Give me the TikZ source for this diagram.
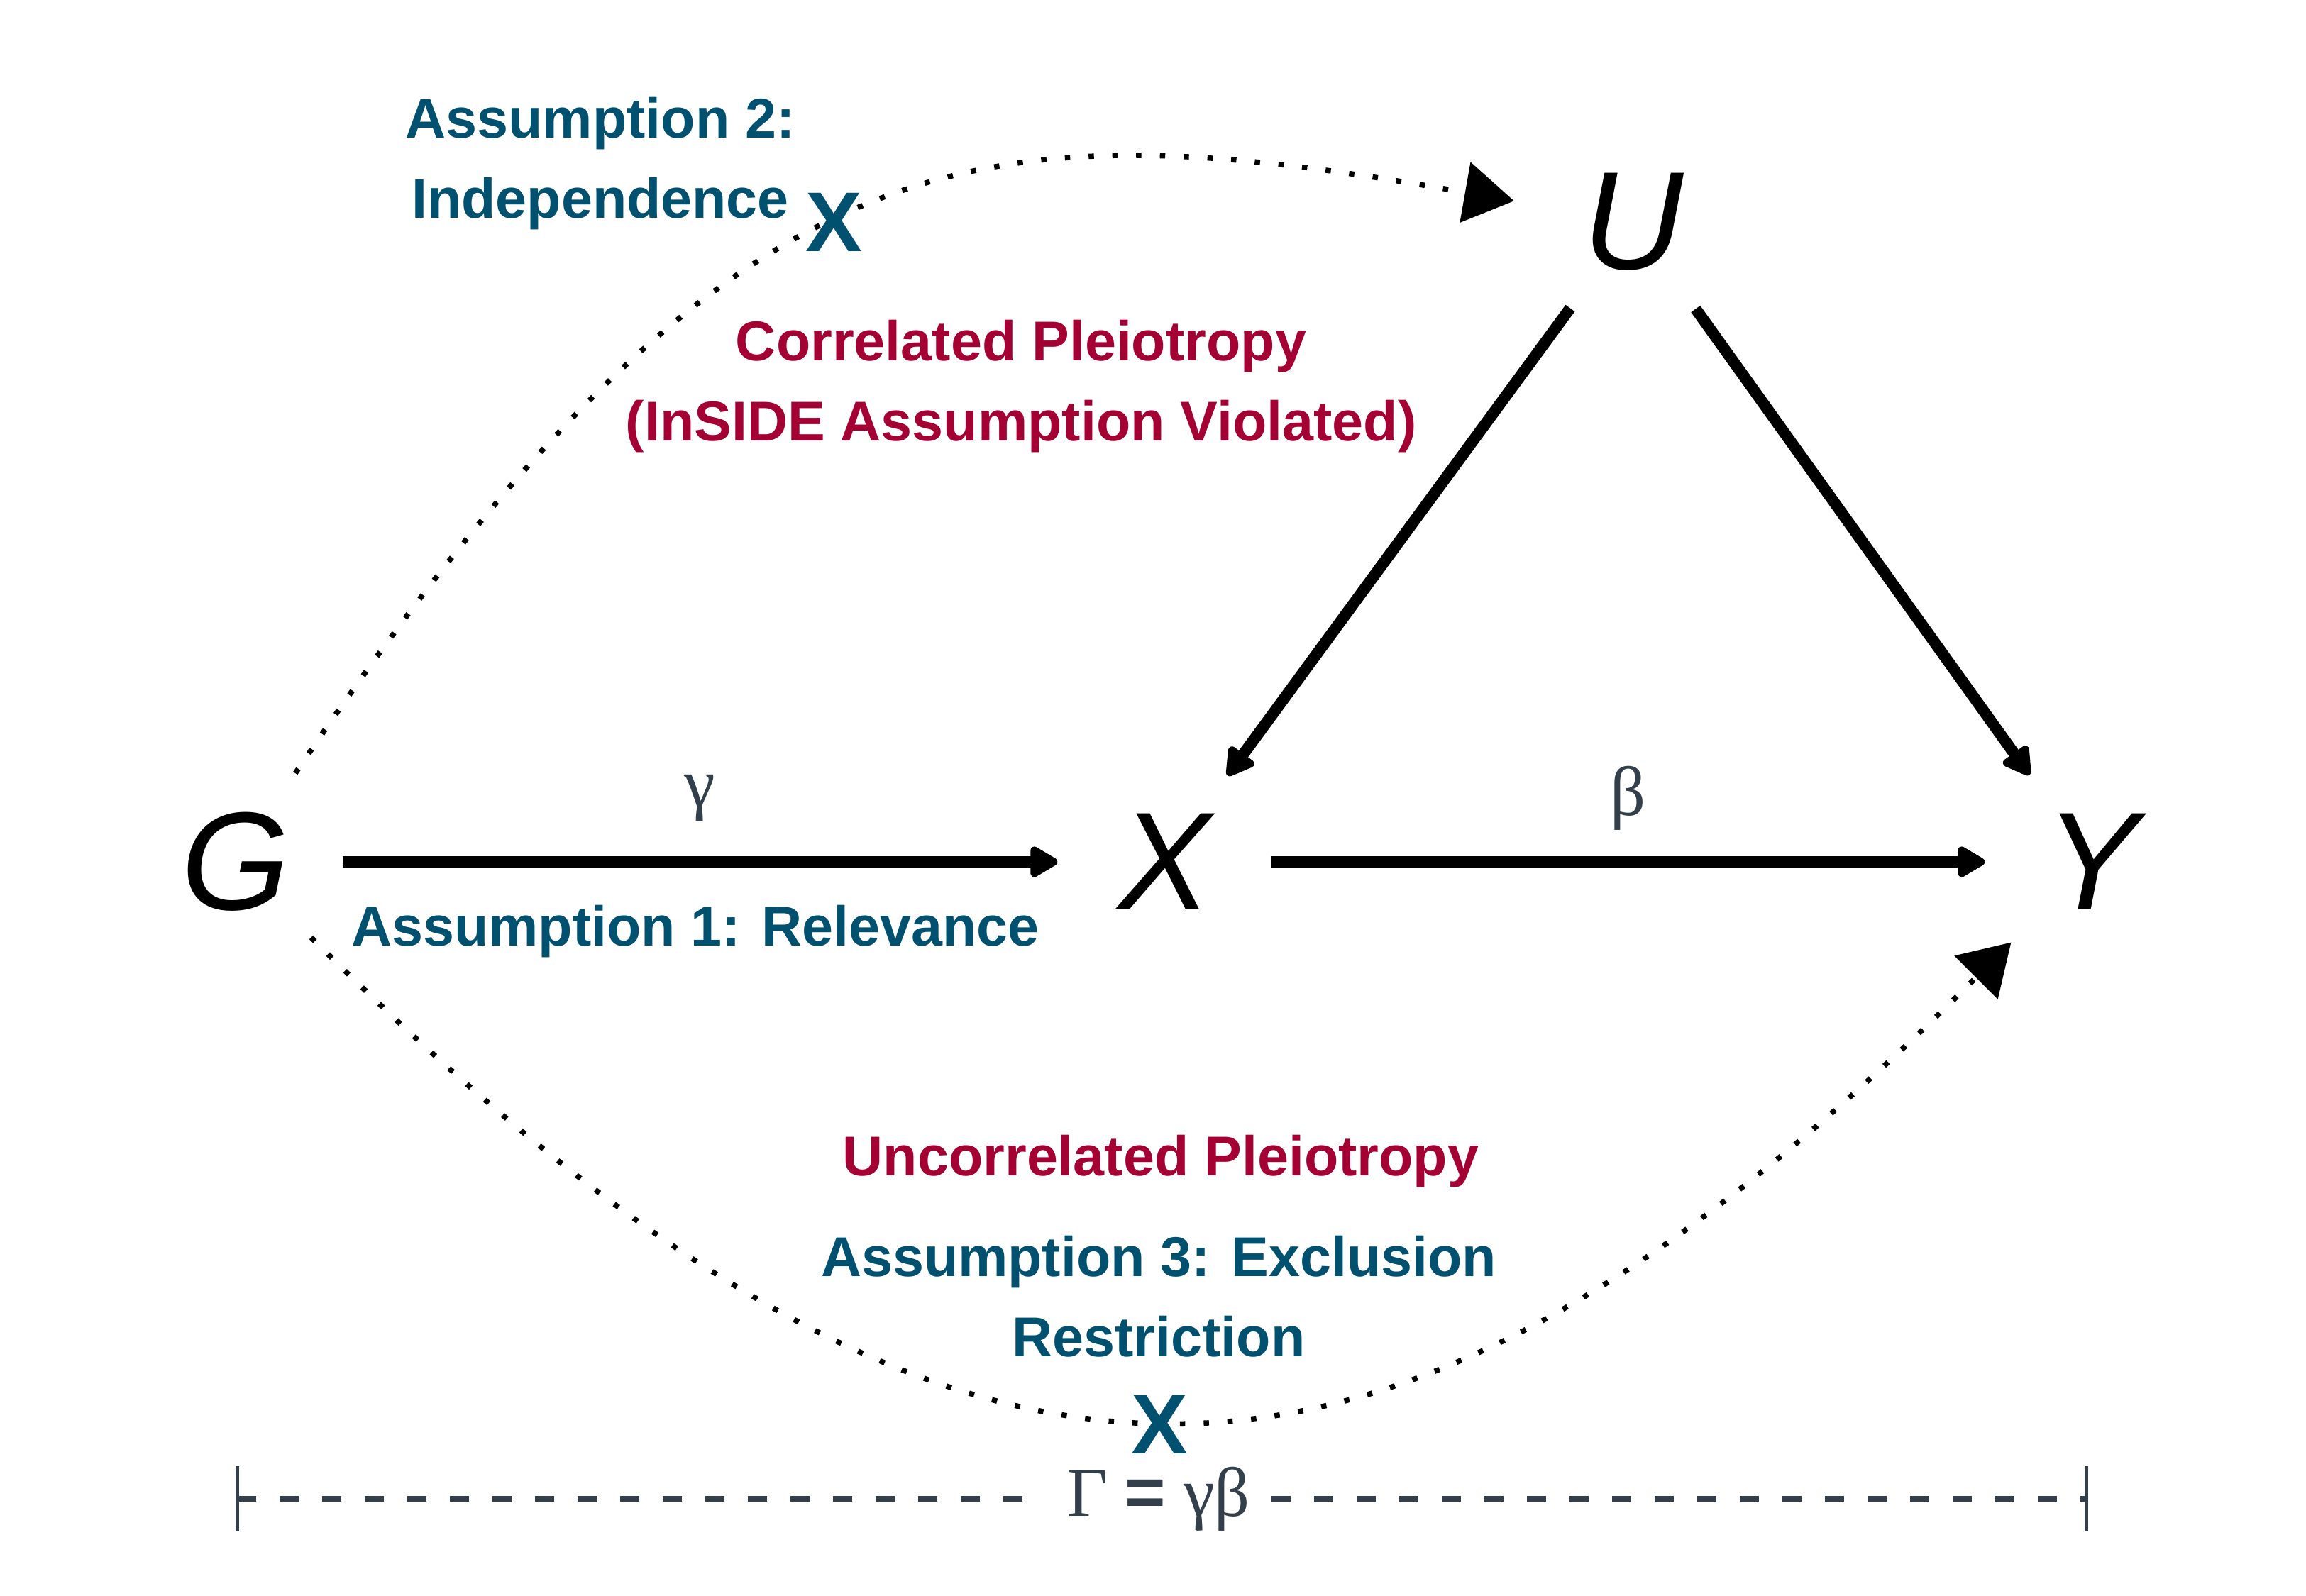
\documentclass[tikz,border=0pt]{standalone}
\usepackage{fontspec}
\setmainfont{Liberation Sans}
\newfontfamily\greekfont{Liberation Serif}
\usetikzlibrary{arrows.meta}

\definecolor{assblue}{HTML}{00506F}
\definecolor{pleired}{HTML}{A50034}
\definecolor{notegray}{HTML}{333F4A}

\tikzset{var/.style = {shape=circle, minimum size=3cm, inner sep=0pt, font=\fontsize{56}{60}\selectfont\itshape}}
\tikzset{edge/.style = {line width=1.6mm, -{Triangle[length=4.4mm, width=4.8mm, round]}}}
\tikzset{dots/.style = {line width=0.75mm, dash pattern=on 0.75mm off 2.6mm, -{Triangle[length=7mm, width=8.5mm]}}}
\tikzset{assume/.style = {text=assblue, align=center, font=\fontsize{22.5}{32.2}\selectfont\bfseries}}
\tikzset{pleio/.style = {text=pleired, align=center, font=\fontsize{22.5}{32.2}\selectfont\bfseries}}
\tikzset{cross/.style = {text=assblue, inner sep=0pt, font=\fontsize{34}{36}\selectfont\bfseries}}
\tikzset{coef/.style = {text=notegray, font=\fontsize{28}{30}\selectfont\greekfont}}
\tikzset{span/.style = {draw=notegray, line width=0.8mm, dash pattern=on 2.7mm off 3.3mm}}
\tikzset{bar/.style = {draw=notegray, line width=0.5mm}}

\begin{document}
\begin{tikzpicture}
  \useasboundingbox (0, 0) rectangle (32.5, 22.5);

  \node[var] (G) at (3.32, 10.35) {G};
  \node[var] (X) at (16.41, 10.35) {X};
  \node[var] (Y) at (29.48, 10.35) {Y};
  \node[var] (U) at (23.02, 19.37) {U};

  \path[edge] (G) edge node[coef, yshift=9mm] {γ} (X);
  \path[edge] (X) edge node[coef, yshift=9mm] {β} (Y);
  \path[edge] (U) edge (X);
  \path[edge] (U) edge (Y);

  % pleiotropic paths
  \draw[dots, shorten >=2mm] (G) to[out=56, in=170, out distance=11cm, in distance=8cm] (U);
  \draw[dots, shorten >=1mm] (G) to[out=-45, in=225, out distance=12.8cm, in distance=12.8cm] (Y);

  \node[assume, anchor=base] (a2) at (8.46, 19.42) {Assumption 2:\\Independence};
  \node[cross] (x2) at (11.75, 19.37) {X};
  \node[pleio, anchor=base] (cp) at (14.39, 16.28) {Correlated Pleiotropy\\(InSIDE Assumption Violated)};
  \node[assume, anchor=base] (a1) at (9.80, 9.16) {Assumption 1: Relevance};
  \node[pleio, anchor=base] (up) at (16.36, 5.92) {Uncorrelated Pleiotropy};
  \node[assume, anchor=base] (a3) at (16.33, 3.37) {Assumption 3: Exclusion\\Restriction};
  \node[cross] (x3) at (16.34, 2.42) {X};

  % total effect
  \coordinate (l) at (3.34, 1.37);
  \coordinate (r) at (29.40, 1.37);
  \node[coef, anchor=base, inner xsep=3mm] (total) at (16.33, 1.12) {Γ {\rmfamily\bfseries =} γβ};
  \draw[span] (l) -- (l -| total.west);
  \draw[span] (total.east |- r) -- (r);
  \draw[bar] (l) +(0, -0.46) -- +(0, 0.46);
  \draw[bar] (r) +(0, -0.46) -- +(0, 0.46);
\end{tikzpicture}
\end{document}
